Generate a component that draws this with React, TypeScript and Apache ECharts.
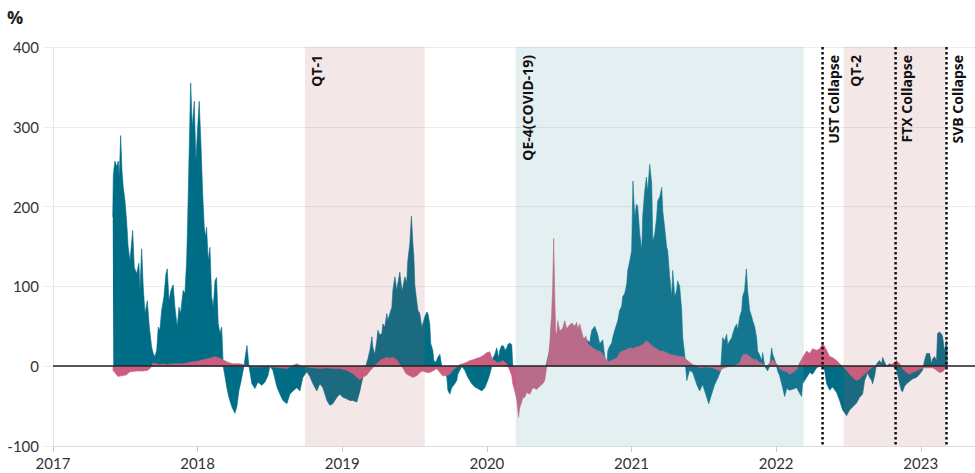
import { useEffect, useRef } from "react";
import * as echarts from "echarts";

// Teal series: [decimal year, %]
const tealSeries: [number, number][] = [
  [2017.413,187],[2017.417,240],[2017.428,257],[2017.440,250],[2017.451,257],[2017.458,237],[2017.468,289],[2017.477,245],[2017.486,224],[2017.498,207],[2017.509,182],[2017.520,149],[2017.532,132],[2017.551,170],[2017.562,124],[2017.578,116],[2017.594,129],[2017.601,95],[2017.613,147],[2017.624,99],[2017.636,66],[2017.652,82],[2017.666,49],[2017.682,24],[2017.693,16],[2017.705,12],[2017.717,20],[2017.728,49],[2017.739,45],[2017.751,70],[2017.767,87],[2017.781,116],[2017.790,122],[2017.802,82],[2017.815,95],[2017.831,102],[2017.843,74],[2017.859,49],[2017.871,74],[2017.882,66],[2017.900,95],[2017.912,91],[2017.924,132],[2017.931,182],[2017.940,257],[2017.952,355],[2017.963,299],[2017.977,332],[2017.988,257],[2018.000,299],[2018.011,332],[2018.023,278],[2018.035,216],[2018.046,174],[2018.055,162],[2018.062,174],[2018.073,132],[2018.085,149],[2018.097,87],[2018.108,74],[2018.120,107],[2018.131,111],[2018.142,54],[2018.154,41],[2018.166,49],[2018.173,20],[2018.177,0],
  [2018.189,-13],[2018.203,-28],[2018.216,-39],[2018.237,-51],[2018.258,-59],[2018.272,-50],[2018.285,-31],[2018.299,-20],[2018.320,0],[2018.341,26],[2018.355,0],[2018.375,-22],[2018.396,-28],[2018.417,-20],[2018.444,-24],[2018.465,-20],[2018.486,-12],[2018.500,0],[2018.520,-5],[2018.548,-26],[2018.569,-35],[2018.590,-43],[2018.617,-47],[2018.638,-35],[2018.659,-31],[2018.686,-27],[2018.707,-31],[2018.728,-14],[2018.755,-7],[2018.776,-13],[2018.797,-22],[2018.824,-31],[2018.845,-22],[2018.866,-27],[2018.894,-43],[2018.914,-49],[2018.935,-47],[2018.963,-39],[2018.983,-35],[2019.004,-39],[2019.032,-41],[2019.053,-43],[2019.073,-43],[2019.101,-45],[2019.122,-31],[2019.142,-14],[2019.170,5],[2019.177,9],[2019.191,20],[2019.205,37],[2019.211,24],[2019.225,15],[2019.239,32],[2019.246,45],[2019.260,39],[2019.274,41],[2019.281,53],[2019.294,49],[2019.308,66],[2019.315,57],[2019.329,66],[2019.343,74],[2019.350,95],[2019.364,112],[2019.377,95],[2019.384,103],[2019.398,118],[2019.412,95],[2019.419,99],[2019.433,112],[2019.446,105],[2019.453,132],[2019.467,153],[2019.478,188],[2019.488,155],[2019.495,137],[2019.502,101],[2019.514,83],[2019.523,70],[2019.536,66],[2019.550,49],[2019.557,53],[2019.571,62],[2019.585,68],[2019.592,66],[2019.605,53],[2019.612,28],[2019.626,20],[2019.633,7],[2019.647,5],[2019.661,11],[2019.675,15],[2019.688,0],[2019.709,-5],[2019.723,-14],[2019.730,-30],[2019.744,-35],[2019.757,-27],[2019.778,-22],[2019.792,-18],[2019.799,-10],[2019.827,0],[2019.847,-5],[2019.868,-14],[2019.896,-22],[2019.916,-26],[2019.937,-28],[2019.965,-31],[2019.986,-27],[2020.006,-18],[2020.020,-10],[2020.034,0],[2020.041,10],[2020.055,15],[2020.068,23],[2020.082,10],[2020.089,20],[2020.103,26],[2020.117,25],[2020.124,20],[2020.138,23],[2020.144,27],[2020.158,29],[2020.172,27],[2020.179,0],[2020.193,-10],[2020.227,-25],[2020.262,-30],[2020.297,-25],[2020.331,-20],[2020.366,-15],[2020.400,-5],[2020.414,5],[2020.435,20],[2020.446,57],[2020.455,40],[2020.469,45],[2020.483,38],[2020.504,35],[2020.525,30],[2020.545,40],[2020.573,35],[2020.607,30],[2020.642,32],[2020.677,35],[2020.711,30],[2020.725,45],[2020.746,50],[2020.766,40],[2020.780,28],[2020.801,33],[2020.815,12],[2020.829,0],[2020.836,19],[2020.849,25],[2020.863,29],[2020.870,36],[2020.884,45],[2020.898,53],[2020.905,57],[2020.918,70],[2020.932,75],[2020.939,87],[2020.953,91],[2020.967,103],[2020.974,120],[2020.988,132],[2021.001,145],[2021.010,232],[2021.022,187],[2021.034,203],[2021.043,200],[2021.057,166],[2021.071,145],[2021.077,187],[2021.091,219],[2021.103,237],[2021.112,219],[2021.126,253],[2021.140,228],[2021.147,157],[2021.160,165],[2021.174,187],[2021.181,207],[2021.195,212],[2021.209,224],[2021.216,195],[2021.229,174],[2021.243,149],[2021.250,145],[2021.264,112],[2021.278,87],[2021.285,120],[2021.299,87],[2021.312,95],[2021.319,107],[2021.333,100],[2021.347,70],[2021.354,36],[2021.368,14],[2021.382,-18],[2021.402,-5],[2021.423,-8],[2021.451,-23],[2021.471,-31],[2021.492,-23],[2021.520,-39],[2021.534,-47],[2021.554,-35],[2021.575,-23],[2021.596,-15],[2021.616,-6],[2021.630,36],[2021.644,32],[2021.658,40],[2021.665,27],[2021.679,32],[2021.692,35],[2021.699,40],[2021.713,48],[2021.727,53],[2021.734,45],[2021.748,62],[2021.762,70],[2021.768,87],[2021.782,95],[2021.794,122],[2021.803,95],[2021.817,70],[2021.831,62],[2021.838,57],[2021.851,50],[2021.865,36],[2021.872,19],[2021.886,14],[2021.900,7],[2021.907,17],[2021.921,0],[2021.941,-6],[2021.955,0],[2021.969,23],[2021.976,15],[2021.990,8],[2022.003,0],[2022.010,-6],[2022.024,-12],[2022.045,-27],[2022.059,-38],[2022.073,-28],[2022.093,-30],[2022.114,-29],[2022.142,-27],[2022.162,-34],[2022.176,-38],[2022.183,-22],[2022.211,-14],[2022.232,-8],[2022.252,-10],[2022.280,-2],[2022.301,0],[2022.321,0],[2022.335,-5],[2022.349,-22],[2022.370,-30],[2022.390,-26],[2022.418,-33],[2022.439,-43],[2022.453,-51],[2022.460,-55],[2022.487,-62],[2022.508,-55],[2022.529,-51],[2022.556,-46],[2022.577,-39],[2022.598,-35],[2022.612,-18],[2022.625,-12],[2022.632,-8],[2022.646,-14],[2022.660,-18],[2022.667,-22],[2022.681,-12],[2022.695,3],[2022.715,7],[2022.729,3],[2022.736,11],[2022.750,5],[2022.764,0],[2022.784,3],[2022.805,1],[2022.833,-5],[2022.854,-22],[2022.867,-31],[2022.874,-32],[2022.888,-25],[2022.902,-22],[2022.923,-19],[2022.943,-16],[2022.971,-14],[2022.992,-10],[2023.012,-5],[2023.026,7],[2023.040,16],[2023.061,16],[2023.075,3],[2023.082,9],[2023.095,12],[2023.109,7],[2023.116,41],[2023.130,43],[2023.144,40],[2023.151,37],[2023.164,19],[2023.178,32],[2023.185,15]
];

// Pink series: [decimal year, %]
const pinkSeries: [number, number][] = [
  [2017.413,-5],[2017.428,-8],[2017.449,-13],[2017.470,-12],[2017.505,-11],[2017.532,-7],[2017.581,-6],[2017.622,-6],[2017.657,-5],[2017.670,-3],[2017.684,0],[2017.691,4],[2017.719,3],[2017.739,2],[2017.760,3],[2017.788,2],[2017.829,3],[2017.857,3],[2017.898,3],[2017.926,4],[2017.947,5],[2017.995,6],[2018.037,8],[2018.085,10],[2018.120,12],[2018.154,10],[2018.175,8],[2018.209,5],[2018.244,3],[2018.292,3],[2018.341,1],[2018.382,-1],[2018.431,-1],[2018.479,0],[2018.520,-1],[2018.569,-2],[2018.617,-3],[2018.659,1],[2018.686,3],[2018.707,1],[2018.755,-1],[2018.797,-2],[2018.845,-3],[2018.894,-2],[2018.935,-3],[2018.983,-3],[2019.032,-5],[2019.073,-9],[2019.101,-14],[2019.122,-17],[2019.142,-14],[2019.170,-11],[2019.191,-6],[2019.211,-2],[2019.239,3],[2019.260,7],[2019.281,9],[2019.308,11],[2019.329,10],[2019.350,11],[2019.377,8],[2019.398,2],[2019.419,-2],[2019.433,-7],[2019.446,-10],[2019.467,-12],[2019.488,-14],[2019.516,-12],[2019.536,-8],[2019.557,-6],[2019.585,-8],[2019.605,-8],[2019.626,-6],[2019.654,-3],[2019.675,-8],[2019.695,-12],[2019.723,-12],[2019.744,-10],[2019.764,-5],[2019.792,-1],[2019.813,2],[2019.833,3],[2019.861,5],[2019.882,7],[2019.903,8],[2019.930,10],[2019.951,11],[2019.972,13],[2019.999,17],[2020.020,18],[2020.034,11],[2020.041,8],[2020.055,7],[2020.068,5],[2020.089,5],[2020.110,7],[2020.124,5],[2020.138,3],[2020.144,0],[2020.158,-5],[2020.172,-12],[2020.179,-22],[2020.193,-31],[2020.207,-43],[2020.214,-55],[2020.218,-64],[2020.227,-52],[2020.241,-45],[2020.248,-40],[2020.262,-39],[2020.276,-33],[2020.297,-35],[2020.317,-27],[2020.345,-29],[2020.366,-25],[2020.386,-22],[2020.400,-18],[2020.414,0],[2020.421,7],[2020.435,27],[2020.445,53],[2020.455,100],[2020.462,160],[2020.469,90],[2020.476,41],[2020.483,40],[2020.490,57],[2020.504,44],[2020.525,48],[2020.538,57],[2020.552,47],[2020.573,52],[2020.587,54],[2020.607,50],[2020.621,55],[2020.628,47],[2020.642,53],[2020.656,43],[2020.670,33],[2020.684,38],[2020.697,28],[2020.711,26],[2020.725,24],[2020.739,22],[2020.753,21],[2020.766,19],[2020.780,19],[2020.801,15],[2020.829,7],[2020.849,6],[2020.870,8],[2020.898,10],[2020.918,17],[2020.939,19],[2020.967,21],[2020.988,23],[2021.008,22],[2021.036,24],[2021.057,25],[2021.077,27],[2021.105,32],[2021.126,28],[2021.147,25],[2021.174,22],[2021.195,19],[2021.216,19],[2021.243,17],[2021.264,15],[2021.285,14],[2021.312,13],[2021.333,12],[2021.354,12],[2021.382,8],[2021.402,5],[2021.423,2],[2021.451,0],[2021.471,-2],[2021.520,-1],[2021.561,-2],[2021.589,-4],[2021.610,-6],[2021.630,-3],[2021.658,-1],[2021.699,0],[2021.727,2],[2021.748,4],[2021.768,14],[2021.796,15],[2021.817,12],[2021.838,9],[2021.865,8],[2021.886,5],[2021.907,3],[2021.921,1],[2021.934,0],[2021.955,4],[2021.969,7],[2021.976,8],[2021.990,6],[2022.003,3],[2022.024,-3],[2022.045,-5],[2022.073,-7],[2022.093,-10],[2022.114,-8],[2022.142,-4],[2022.162,4],[2022.183,11],[2022.211,19],[2022.232,16],[2022.252,22],[2022.280,20],[2022.301,22],[2022.321,28],[2022.335,25],[2022.349,20],[2022.370,12],[2022.390,11],[2022.418,7],[2022.439,3],[2022.460,0],[2022.487,-5],[2022.508,-10],[2022.529,-14],[2022.556,-18],[2022.577,-16],[2022.598,-12],[2022.625,-8],[2022.646,-4],[2022.667,-1],[2022.695,1],[2022.715,2],[2022.736,0],[2022.764,0],[2022.784,1],[2022.805,3],[2022.833,7],[2022.854,3],[2022.874,-3],[2022.902,-8],[2022.923,-10],[2022.943,-8],[2022.971,-6],[2022.992,-4],[2023.012,-2],[2023.040,-2],[2023.061,-2],[2023.082,-2],[2023.109,-5],[2023.130,-8],[2023.151,-7],[2023.164,-4],[2023.185,0]
];

// Policy periods (shaded bands)
const bandNames = ["QT-1", "QE-4(COVID-19)", "QT-2"];
const bandStarts = [2018.742, 2020.2, 2022.466];
const bandEnds = [2019.571, 2022.19, 2023.178];
const bandKinds = ["qt", "qe", "qt"];

// Events (dotted vertical lines)
const eventNames = ["UST Collapse", "FTX Collapse", "SVB Collapse"];
const eventDates = [2022.321, 2022.826, 2023.178];

// Axes
const xMin = 2017;
const xMax = 2023.375;
const yMin = -100;
const yMax = 400;

const FONT = "Lato, 'Noto Sans', sans-serif";
const LABEL_FONT = "'Open Sans', 'Noto Sans', sans-serif";
const TEAL = "#006d87";
const PINK = "#cb5e80";
const BAND_COLORS: Record<string, string> = {
  qt: "rgba(183,91,91,0.15)",
  qe: "rgba(109,169,179,0.185)",
};

export default function App() {
  const ref = useRef<HTMLDivElement>(null);

  useEffect(() => {
    if (!ref.current) return;
    const chart = echarts.init(ref.current, undefined, { renderer: "svg" });

    const labelStyle = (text: string) => ({
      text,
      font: `bold 14px ${LABEL_FONT}`,
      fill: "#111",
      align: "right",
      verticalAlign: "top",
    });

    const option: any = {
      animation: false,
      backgroundColor: "#ffffff",
      textStyle: { fontFamily: FONT },
      grid: { left: 53, right: 0, top: 47, bottom: 27, containLabel: false, outerBoundsMode: "none" },
      graphic: [
        {
          type: "text",
          left: 7,
          top: 8,
          style: { text: "%", font: `bold 18px ${LABEL_FONT}`, fill: "#222" },
        },
      ],
      xAxis: {
        type: "value",
        min: xMin,
        max: xMax,
        interval: 1,
        axisLine: { show: true, onZero: false, lineStyle: { color: "#dddddd", width: 1 } },
        axisTick: { show: true, length: 6, lineStyle: { color: "#cccccc" } },
        axisLabel: {
          color: "#333",
          fontSize: 15,
          fontFamily: FONT,
          margin: 9,
          showMaxLabel: false,
          formatter: (v: number) => (Number.isInteger(v) ? String(v) : ""),
        },
        splitLine: { show: false },
      },
      yAxis: {
        type: "value",
        min: yMin,
        max: yMax,
        interval: 100,
        axisLine: { show: true, lineStyle: { color: "#e6e6e6", width: 1 } },
        axisTick: { show: true, length: 9, lineStyle: { color: "#eeeeee" } },
        axisLabel: { color: "#333", fontSize: 15, fontFamily: FONT, margin: 14 },
        splitLine: { show: true, lineStyle: { color: "#ececec", width: 1 } },
      },
      series: [
        {
          name: "Teal",
          type: "line",
          z: 2,
          data: tealSeries,
          showSymbol: false,
          symbol: "none",
          silent: true,
          lineStyle: { color: TEAL, width: 0.6 },
          itemStyle: { color: TEAL },
          areaStyle: { color: TEAL, opacity: 1, origin: "auto" },
        },
        {
          name: "Pink",
          type: "line",
          z: 3,
          data: pinkSeries,
          showSymbol: false,
          symbol: "none",
          silent: true,
          lineStyle: { color: PINK, width: 0.6 },
          itemStyle: { color: PINK },
          areaStyle: { color: PINK, opacity: 1, origin: "auto" },
          markLine: {
            silent: true,
            symbol: ["none", "none"],
            label: { show: false },
            lineStyle: { color: "#222", width: 1.5, type: "solid" },
            data: [{ yAxis: 0 }],
          },
        },
        {
          name: "Bands",
          type: "custom",
          z: 4,
          silent: true,
          clip: false,
          data: bandStarts.map((s, i) => [s, bandEnds[i], i]),
          encode: { x: [0, 1] },
          renderItem: (params: any, api: any) => {
            const i = api.value(2);
            const cs = params.coordSys;
            const x0 = api.coord([api.value(0), 0])[0];
            const x1 = api.coord([api.value(1), 0])[0];
            return {
              type: "group",
              children: [
                {
                  type: "rect",
                  shape: { x: x0, y: cs.y, width: x1 - x0, height: cs.height },
                  style: { fill: BAND_COLORS[bandKinds[i]] },
                },
                {
                  type: "text",
                  x: x0 + 5,
                  y: cs.y + 8,
                  rotation: Math.PI / 2,
                  style: labelStyle(bandNames[i]),
                },
              ],
            };
          },
        },
        {
          name: "Events",
          type: "custom",
          z: 5,
          silent: true,
          clip: false,
          data: eventDates.map((d, i) => [d, 0, i]),
          encode: { x: 0 },
          renderItem: (params: any, api: any) => {
            const i = api.value(2);
            const cs = params.coordSys;
            const x = api.coord([api.value(0), 0])[0];
            return {
              type: "group",
              children: [
                {
                  type: "line",
                  shape: { x1: x, y1: cs.y, x2: x, y2: cs.y + cs.height },
                  style: { stroke: "#111", lineWidth: 2.5, lineDash: [2.5, 2.5] },
                },
                {
                  type: "text",
                  x: x + 4,
                  y: cs.y + 8,
                  rotation: Math.PI / 2,
                  style: labelStyle(eventNames[i]),
                },
              ],
            };
          },
        },
      ],
    };

    chart.setOption(option);
    return () => chart.dispose();
  }, []);

  return (
    <div
      ref={ref}
      style={{ position: "absolute", left: 0, top: 0, width: 975, height: 473, background: "#fff" }}
    />
  );
}
